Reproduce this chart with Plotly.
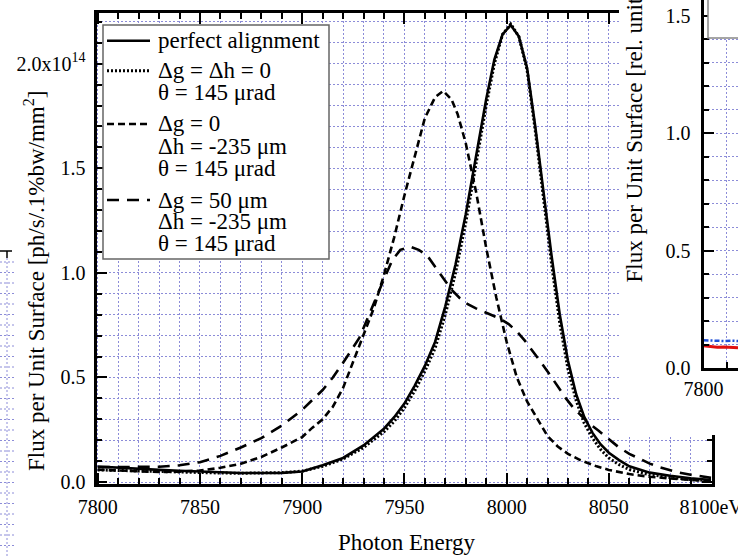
import plotly.graph_objects as go

W, H = 738, 556
def px(x):
    return x / W
def py(y):
    return (H - y) / H

# ---------------- data (flux in units of 1e14 ph/s/.1%bw/mm^2) ----------------
e_perfect = [7800, 7810, 7820, 7830, 7840, 7850, 7860, 7870, 7880, 7890, 7900, 7910, 7920,
             7930, 7940, 7945, 7950, 7955, 7960, 7965, 7970, 7975, 7980, 7985, 7990, 7994,
             7998, 8002, 8006, 8010, 8014, 8018, 8022, 8026, 8030, 8034, 8038, 8042, 8046,
             8050, 8055, 8060, 8070, 8080, 8090, 8100]
f_perfect = [0.074, 0.068, 0.063, 0.058, 0.054, 0.051, 0.045, 0.043, 0.043, 0.044, 0.050, 0.080,
             0.115, 0.175, 0.255, 0.31, 0.375, 0.46, 0.555, 0.67, 0.84, 1.04, 1.28, 1.56, 1.83,
             2.02, 2.14, 2.185, 2.13, 1.98, 1.70, 1.39, 1.08, 0.80, 0.58, 0.42, 0.31, 0.235,
             0.18, 0.14, 0.105, 0.075, 0.045, 0.030, 0.018, 0.010]

e_dgdh0 = [7800, 7810, 7820, 7830, 7840, 7850, 7860, 7870, 7880, 7890, 7900, 7910, 7920,
           7930, 7940, 7945, 7950, 7955, 7960, 7965, 7970, 7975, 7980, 7985, 7990, 7994,
           7998, 8002, 8006, 8010, 8014, 8018, 8022, 8026, 8030, 8034, 8038, 8042, 8046,
           8050, 8055, 8060, 8070, 8080, 8090, 8100]
f_dgdh0 = [0.058, 0.055, 0.052, 0.050, 0.048, 0.046, 0.043, 0.042, 0.042, 0.045, 0.052, 0.075,
           0.11, 0.165, 0.24, 0.29, 0.355, 0.435, 0.53, 0.64, 0.80, 1.00, 1.24, 1.52, 1.80,
           2.00, 2.14, 2.19, 2.13, 1.97, 1.68, 1.36, 1.04, 0.76, 0.54, 0.39, 0.28, 0.21,
           0.155, 0.115, 0.083, 0.060, 0.035, 0.022, 0.012, 0.006]

e_dh235 = [7800, 7810, 7820, 7830, 7840, 7850, 7860, 7870, 7880, 7890, 7900, 7905, 7910,
           7915, 7920, 7925, 7930, 7935, 7940, 7945, 7950, 7955, 7960, 7965, 7969, 7973,
           7976, 7980, 7985, 7990, 7995, 8000, 8005, 8010, 8015, 8020, 8025, 8030, 8036,
           8044, 8050, 8060, 8070, 8082, 8090, 8100]
f_dh235 = [0.059, 0.055, 0.050, 0.048, 0.050, 0.055, 0.068, 0.087, 0.12, 0.165, 0.215, 0.26,
           0.30, 0.36, 0.45, 0.58, 0.70, 0.83, 0.99, 1.17, 1.37, 1.56, 1.74, 1.84, 1.87, 1.83,
           1.76, 1.62, 1.39, 1.12, 0.88, 0.67, 0.50, 0.385, 0.30, 0.22, 0.17, 0.135, 0.105,
           0.075, 0.058, 0.038, 0.025, 0.014, 0.010, 0.005]

e_dg50 = [7800, 7810, 7820, 7830, 7840, 7850, 7860, 7870, 7880, 7890, 7900, 7910, 7915,
          7920, 7928, 7936, 7940, 7944, 7948, 7953, 7957, 7961, 7965, 7969, 7973, 7977,
          7981, 7985, 7991, 7997, 8001, 8005, 8009, 8013, 8017, 8021, 8025, 8029, 8033,
          8037, 8041, 8045, 8050, 8055, 8060, 8065, 8070, 8075, 8083, 8090, 8100]
f_dg50 = [0.071, 0.071, 0.071, 0.073, 0.080, 0.095, 0.125, 0.165, 0.21, 0.27, 0.345, 0.44,
          0.50, 0.57, 0.69, 0.88, 0.97, 1.06, 1.11, 1.125, 1.11, 1.085, 1.03, 0.974, 0.92,
          0.88, 0.85, 0.83, 0.805, 0.78, 0.755, 0.72, 0.675, 0.625, 0.57, 0.515, 0.455,
          0.40, 0.35, 0.31, 0.275, 0.245, 0.205, 0.165, 0.135, 0.11, 0.088, 0.07, 0.048,
          0.035, 0.020]

# neighbouring panel (only a sliver visible)
e_side = [7800, 7803, 7806, 7809, 7812, 7815]
f_side_red = [0.095, 0.090, 0.088, 0.089, 0.087, 0.086]
f_side_blue = [0.118, 0.116, 0.117, 0.115, 0.116, 0.115]

x_ticks = [7800, 7850, 7900, 7950, 8000, 8050, 8100]
x_ticktext = ["7800", "7850", "7900", "7950", "8000", "8050", "8100eV"]
y_ticks = [0.0, 0.5, 1.0, 1.5, 2.0]
y_ticktext = ["0.0", "0.5", "1.0", "1.5", "2.0x10<sup>14</sup>"]
side_y_ticks = [0.0, 0.5, 1.0, 1.5]
side_y_ticktext = ["0.0", "0.5", "1.0", "1.5"]

legend_lines = [
    ("perfect alignment", 40.7),
    ("\u0394g = \u0394h = 0", 70.7),
    ("\u03b8 = 145 \u03bcrad", 92.7),
    ("\u0394g = 0", 124.0),
    ("\u0394h = -235 \u03bcm", 146.7),
    ("\u03b8 = 145 \u03bcrad", 168.3),
    ("\u0394g = 50 \u03bcm", 200.0),
    ("\u0394h = -235 \u03bcm", 221.7),
    ("\u03b8 = 145 \u03bcrad", 243.3),
]

SERIF = "Liberation Serif"
GRID = "#8c8cd8"
GDASH = "2px,2px"
LW = 2.6

series = [
    (e_perfect, f_perfect, "perfect alignment", "solid", LW),
    (e_dgdh0, f_dgdh0, "\u0394g = \u0394h = 0, \u03b8 = 145 \u03bcrad", "2px,2px", 3.0),
    (e_dh235, f_dh235, "\u0394g = 0, \u0394h = -235 \u03bcm, \u03b8 = 145 \u03bcrad", "7px,4px", LW),
    (e_dg50, f_dg50, "\u0394g = 50 \u03bcm, \u0394h = -235 \u03bcm, \u03b8 = 145 \u03bcrad", "12px,8px", LW),
]

fig = go.Figure()
for xs, ys, name, dash, w in series:
    fig.add_trace(go.Scatter(x=xs, y=ys, name=name, mode="lines",
                             line=dict(color="black", width=w, dash=dash),
                             xaxis="x", yaxis="y", showlegend=False))

# empty cover subplot (the neighbouring figure's white area overlaps this one)
fig.add_trace(go.Scatter(x=[], y=[], xaxis="x2", yaxis="y2", showlegend=False))

# neighbouring panel sliver
fig.add_trace(go.Scatter(x=e_side, y=f_side_red, mode="lines", xaxis="x3", yaxis="y3",
                         line=dict(color="#e01010", width=3), showlegend=False))
fig.add_trace(go.Scatter(x=e_side, y=f_side_blue, mode="lines", xaxis="x3", yaxis="y3",
                         line=dict(color="#1f4fd8", width=2.5, dash="5px,2px,2px,2px"),
                         showlegend=False))

axis_common = dict(showline=True, linecolor="black", linewidth=3, ticks="inside",
                   tickcolor="black", tickwidth=2, zeroline=False, showgrid=True,
                   gridcolor=GRID, griddash=GDASH, gridwidth=1, automargin=False,
                   ticklabeloverflow="allow",
                   tickfont=dict(family=SERIF, size=20, color="black"))

fig.update_layout(
    template="none",
    width=W, height=H,
    margin=dict(l=0, r=0, t=0, b=0, pad=0),
    paper_bgcolor="white", plot_bgcolor="white",
    font=dict(family=SERIF, color="black"),
    showlegend=False,
    xaxis=dict(domain=[px(96.5), px(711.5)], range=[7799.4, 8100.2], anchor="y",
               tickmode="array", tickvals=x_ticks, ticktext=x_ticktext, ticklen=11,
               mirror="ticks", ticklabelstandoff=3,
               minor=dict(tick0=7800, dtick=10, ticks="inside", ticklen=6, tickwidth=2,
                          tickcolor="black", showgrid=True, gridcolor=GRID,
                          griddash=GDASH, gridwidth=1),
               **axis_common),
    yaxis=dict(domain=[py(483.5), py(12.5)], range=[-0.007, 2.245], anchor="x",
               tickmode="array", tickvals=y_ticks, ticktext=y_ticktext, ticklen=10,
               mirror="ticks", ticklabelstandoff=4,
               minor=dict(tick0=0, dtick=0.1, ticks="inside", ticklen=5, tickwidth=2,
                          tickcolor="black", showgrid=True, gridcolor=GRID,
                          griddash=GDASH, gridwidth=1),
               **axis_common),
    xaxis2=dict(domain=[px(619), 1.0], range=[0, 1], anchor="y2", automargin=False,
                showline=False, showgrid=False, zeroline=False, showticklabels=False,
                ticks=""),
    yaxis2=dict(domain=[py(435), 1.0], range=[0, 1], anchor="x2", automargin=False,
                showline=False, showgrid=False, zeroline=False, showticklabels=False,
                ticks=""),
    xaxis3=dict(domain=[px(703.5), 1.0], range=[7800, 7815], anchor="y3",
                tickmode="array", tickvals=[7800], ticktext=["7800"], ticklen=10,
                ticklabelstandoff=1,
                minor=dict(tick0=7800, dtick=10, ticks="inside", ticklen=6, tickwidth=2,
                           tickcolor="black", showgrid=True, gridcolor=GRID,
                           griddash=GDASH, gridwidth=1),
                **axis_common),
    yaxis3=dict(domain=[py(368), 1.0], range=[0, 1.566], anchor="x3",
                tickmode="array", tickvals=side_y_ticks, ticktext=side_y_ticktext,
                ticklen=10, ticklabelstandoff=6,
                minor=dict(tick0=0, dtick=0.1, ticks="inside", ticklen=5, tickwidth=2,
                           tickcolor="black", showgrid=True, gridcolor=GRID,
                           griddash=GDASH, gridwidth=1),
                **axis_common),
)

shapes = []
# main legend box
shapes.append(dict(type="rect", xref="paper", yref="paper", x0=px(103), x1=px(329),
                   y0=py(259), y1=py(25), fillcolor="white",
                   line=dict(color="#666666", width=1.5), layer="above"))
legend_samples = [(40.7, "solid", LW), (70.7, "2px,2px", 3.0), (124.0, "7px,4px", LW),
                  (200.0, "12px,8px", LW)]
for yy, dash, w in legend_samples:
    shapes.append(dict(type="line", xref="paper", yref="paper", x0=px(107), x1=px(150),
                       y0=py(yy), y1=py(yy), line=dict(color="black", width=w, dash=dash),
                       layer="above"))
# neighbouring panel's legend box (cut by the image edge)
shapes.append(dict(type="rect", xref="paper", yref="paper", x0=px(708), x1=px(745),
                   y0=py(38), y1=py(-5), fillcolor="white",
                   line=dict(color="#888888", width=1.5), layer="above"))
# left neighbouring panel sliver
shapes.append(dict(type="line", xref="paper", yref="paper", x0=px(7), x1=px(7),
                   y0=py(258), y1=py(560), line=dict(color=GRID, width=1, dash=GDASH),
                   layer="above"))
yy = 262
while yy < 556:
    shapes.append(dict(type="line", xref="paper", yref="paper", x0=px(0), x1=px(16),
                       y0=py(yy), y1=py(yy), line=dict(color=GRID, width=1, dash=GDASH),
                       layer="above"))
    yy += 10.5
shapes.append(dict(type="line", xref="paper", yref="paper", x0=px(0), x1=px(12),
                   y0=py(251), y1=py(251), line=dict(color="black", width=1.5),
                   layer="above"))
shapes.append(dict(type="line", xref="paper", yref="paper", x0=px(7), x1=px(7),
                   y0=py(251), y1=py(258), line=dict(color="black", width=1.5),
                   layer="above"))
fig.update_layout(shapes=shapes)

ann = []
for txt, yy in legend_lines:
    ann.append(dict(text=txt, xref="paper", yref="paper", x=px(156), y=py(yy),
                    xanchor="left", yanchor="middle", showarrow=False,
                    font=dict(family=SERIF, size=23, color="black")))
ann.append(dict(text="Photon Energy", xref="paper", yref="paper", x=px(406), y=py(542),
                xanchor="center", yanchor="middle", showarrow=False,
                font=dict(family=SERIF, size=23, color="black")))
ann.append(dict(text="Flux per Unit Surface [ph/s/.1%bw/mm<sup>2</sup>]", xref="paper",
                yref="paper", x=px(34), y=py(281), xanchor="center", yanchor="middle",
                textangle=-90, showarrow=False,
                font=dict(family=SERIF, size=23, color="black")))
ann.append(dict(text="Flux per Unit Surface [rel. units]", xref="paper", yref="paper",
                x=px(634), y=py(285), xanchor="center", yanchor="bottom",
                textangle=-90, showarrow=False,
                font=dict(family=SERIF, size=23, color="black")))
fig.update_layout(annotations=ann)

fig.write_html("out.html")
